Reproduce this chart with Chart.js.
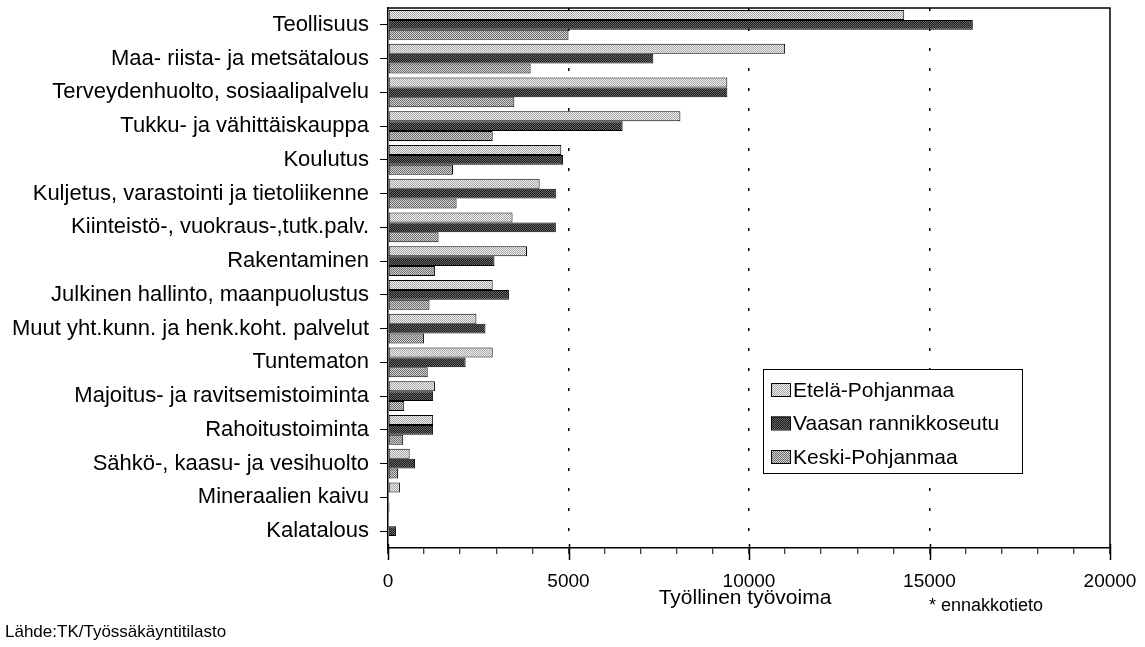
<!DOCTYPE html>
<html>
<head>
<meta charset="utf-8">
<script src="https://cdn.jsdelivr.net/npm/chart.js@4.4.1/dist/chart.umd.min.js"></script>
<style>
html,body{margin:0;padding:0;background:#fff;}
#wrap{position:relative;width:1145px;height:647px;}
</style>
</head>
<body>
<div id="wrap"><canvas id="c" width="1145" height="647"></canvas></div>
<script>
const categories = [
  "Teollisuus",
  "Maa- riista- ja metsätalous",
  "Terveydenhuolto, sosiaalipalvelu",
  "Tukku- ja vähittäiskauppa",
  "Koulutus",
  "Kuljetus, varastointi ja tietoliikenne",
  "Kiinteistö-, vuokraus-,tutk.palv.",
  "Rakentaminen",
  "Julkinen hallinto, maanpuolustus",
  "Muut yht.kunn. ja henk.koht. palvelut",
  "Tuntematon",
  "Majoitus- ja ravitsemistoiminta",
  "Rahoitustoiminta",
  "Sähkö-, kaasu- ja vesihuolto",
  "Mineraalien kaivu",
  "Kalatalous"
];
const seriesNames = ["Etelä-Pohjanmaa", "Vaasan rannikkoseutu", "Keski-Pohjanmaa"];
const etelaPohjanmaa = [14300, 11000, 9400, 8100, 4800, 4200, 3450, 3850, 2900, 2450, 2900, 1300, 1250, 600, 330, 0];
const vaasanRannikkoseutu = [16200, 7350, 9400, 6500, 4850, 4650, 4650, 2950, 3350, 2700, 2150, 1250, 1250, 750, 0, 220];
const keskiPohjanmaa = [5000, 3950, 3500, 2900, 1800, 1900, 1400, 1300, 1150, 1000, 1100, 450, 420, 280, 40, 0];
const xTicks = [0, 5000, 10000, 15000, 20000];
const xAxisTitle = "Työllinen työvoima";
const noteText = "* ennakkotieto";
const sourceText = "Lähde:TK/Työssäkäyntitilasto";

const FONT = "'Liberation Sans', Arial, Helvetica, sans-serif";

function makePattern(a, b) {
  const p = document.createElement('canvas');
  p.width = 2; p.height = 2;
  const g = p.getContext('2d');
  g.fillStyle = a; g.fillRect(0, 0, 2, 2);
  g.fillStyle = b; g.fillRect(0, 0, 1, 1); g.fillRect(1, 1, 1, 1);
  return document.getElementById('c').getContext('2d').createPattern(p, 'repeat');
}
const fills = [
  makePattern('#f2f2f2', '#a4a4a4'),
  makePattern('#1a1a1a', '#686868'),
  makePattern('#d4d4d4', '#6a6a6a')
];

const extras = {
  id: 'extras',
  afterDraw(chart) {
    const ctx = chart.ctx;
    const a = chart.chartArea;
    const xs = chart.scales.x;
    ctx.save();
    ctx.strokeStyle = '#000';
    ctx.lineWidth = 1.5;
    ctx.beginPath();
    ctx.moveTo(a.left, a.top);
    ctx.lineTo(a.right, a.top);
    ctx.lineTo(a.right, a.bottom);
    ctx.stroke();
    xTicks.forEach(v => {
      const px = Math.round(xs.getPixelForValue(v)) + 0.5;
      ctx.beginPath();
      ctx.moveTo(px, a.bottom - 4);
      ctx.lineTo(px, a.bottom + 12);
      ctx.stroke();
    });
    // legend
    const lx = 763, ly = 369, lw = 259, lh = 104;
    ctx.fillStyle = '#fff';
    ctx.fillRect(lx, ly, lw, lh);
    ctx.lineWidth = 1;
    ctx.strokeStyle = '#000';
    ctx.strokeRect(lx + 0.5, ly + 0.5, lw, lh);
    ctx.font = '21px ' + FONT;
    ctx.textBaseline = 'middle';
    ctx.textAlign = 'left';
    chart.data.datasets.forEach((ds, i) => {
      const cy = 390 + i * 33.5;
      ctx.fillStyle = ds.backgroundColor;
      ctx.fillRect(771, cy - 7, 19, 13);
      ctx.strokeStyle = '#000';
      ctx.strokeRect(771.5, cy - 6.5, 19, 13);
      ctx.fillStyle = '#000';
      ctx.fillText(ds.label, 793, cy + 1);
    });
    // extra texts
    ctx.fillStyle = '#000';
    ctx.font = '21px ' + FONT;
    ctx.textAlign = 'center';
    ctx.fillText(xAxisTitle, 745, 598);
    ctx.textAlign = 'left';
    ctx.font = '18px ' + FONT;
    ctx.fillText(noteText, 929, 606);
    ctx.font = '17px ' + FONT;
    ctx.fillText(sourceText, 5, 632);
    ctx.restore();
  }
};

new Chart(document.getElementById('c'), {
  type: 'bar',
  data: {
    labels: categories,
    datasets: [
      { label: seriesNames[0], data: etelaPohjanmaa, backgroundColor: fills[0] },
      { label: seriesNames[1], data: vaasanRannikkoseutu, backgroundColor: fills[1] },
      { label: seriesNames[2], data: keskiPohjanmaa, backgroundColor: fills[2] }
    ]
  },
  options: {
    indexAxis: 'y',
    responsive: false,
    animation: false,
    layout: { padding: { top: 8, right: 35, left: 0, bottom: 0 } },
    datasets: {
      bar: {
        borderColor: '#000',
        borderWidth: 1,
        borderSkipped: false,
        categoryPercentage: 0.88,
        barPercentage: 1.0
      }
    },
    plugins: {
      legend: { display: false },
      tooltip: { enabled: false },
      title: { display: false }
    },
    scales: {
      x: {
        type: 'linear',
        min: 0,
        max: 20000,
        afterFit(s) {
          s.height = 99;
          s.paddingLeft = 0; s.paddingRight = 0; s.paddingTop = 0; s.paddingBottom = 0;
        },
        ticks: {
          stepSize: 1000,
          autoSkip: false,
          maxRotation: 0,
          padding: 16,
          color: '#000',
          font: { family: FONT, size: 19 },
          callback: (v) => xTicks.includes(v) ? String(v) : ''
        },
        grid: {
          color: (ctx) => {
            const v = ctx.tick && ctx.tick.value;
            return (v > 0 && v < 20000 && v % 5000 === 0) ? '#000' : 'rgba(0,0,0,0)';
          },
          lineWidth: 1.5,
          tickColor: '#000',
          tickLength: 6,
          tickWidth: 1,
          drawTicks: true
        },
        border: { display: true, color: '#000', width: 1.5, dash: [3, 17] }
      },
      y: {
        type: 'category',
        afterFit(s) {
          s.width = 388;
          s.paddingLeft = 0; s.paddingRight = 0; s.paddingTop = 0; s.paddingBottom = 0;
        },
        ticks: {
          color: '#000',
          padding: 11,
          autoSkip: false,
          font: { family: FONT, size: 22 }
        },
        grid: {
          offset: false,
          drawOnChartArea: false,
          tickLength: 8,
          tickColor: '#000',
          tickWidth: 1
        },
        border: { display: true, color: '#000', width: 1.5 }
      }
    }
  },
  plugins: [extras]
});
</script>
</body>
</html>
